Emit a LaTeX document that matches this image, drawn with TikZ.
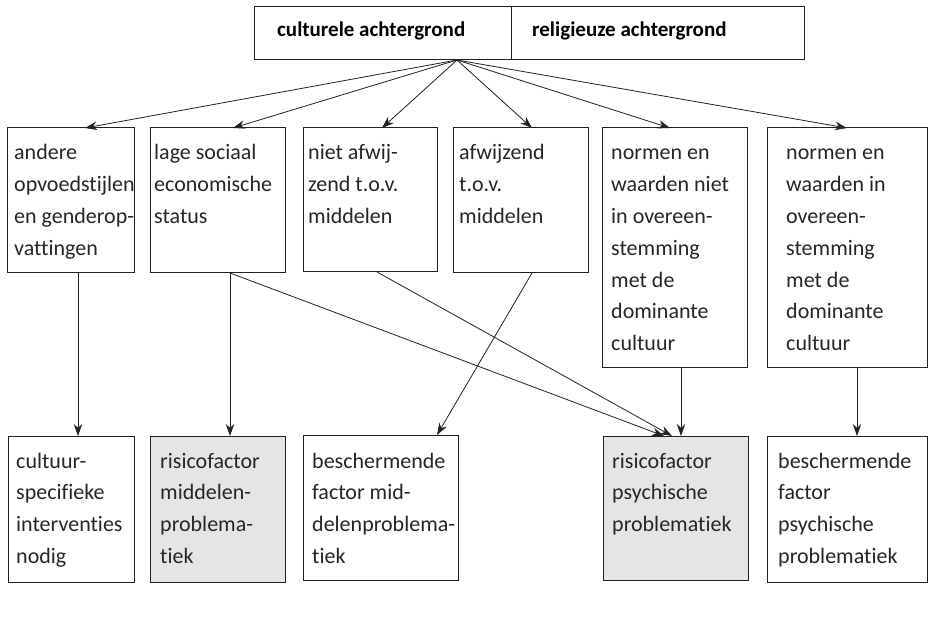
\documentclass[tikz,border=0pt]{standalone}
\usepackage{fontspec}
\setmainfont{Carlito}[Ligatures={NoCommon,NoContextual}]
\usetikzlibrary{arrows.meta}
\definecolor{boxgray}{HTML}{E4E5E4}
\definecolor{ln}{HTML}{222222}
\newcommand{\mlines}[1]{\begin{tabular}[t]{@{}l@{}}#1\end{tabular}}
\begin{document}
\begin{tikzpicture}[x=1pt,y=-1pt,
  box/.style={draw=ln, line width=1pt, rectangle, inner sep=0pt, outer sep=0pt, anchor=north west},
  grayfill/.style={fill=boxgray},
  txt/.style={anchor=base west, inner sep=0pt, text=black!85, font=\fontsize{22}{31.8}\selectfont},
  head/.style={anchor=base west, inner sep=0pt, font=\bfseries\fontsize{21}{25}\selectfont},
  arr/.style={draw=ln, line width=0.8pt, -{Stealth[length=12pt,width=8.5pt]}}]
\useasboundingbox[fill=white] (0,0) rectangle (929,617);
% top
\node[box, minimum width=257pt, minimum height=53pt] (cult) at (254,7) {};
\node[box, minimum width=293pt, minimum height=53pt] (rel) at (511,7) {};
\node[head] (tc) at (277,37) {culturele achtergrond};
\node[head] (tr) at (532,37) {religieuze achtergrond};
\coordinate (hub) at ([xshift=-54pt]cult.south east);
% middle row
\node[box, minimum width=127pt, minimum height=145pt] (m1) at (7,128) {};
\node[box, minimum width=135pt, minimum height=145pt] (m2) at (150,128) {};
\node[box, minimum width=134pt, minimum height=144pt] (m3) at (303,128) {};
\node[box, minimum width=135pt, minimum height=145pt] (m4) at (453,128) {};
\node[box, minimum width=145pt, minimum height=240pt] (m5) at (602,128) {};
\node[box, minimum width=160pt, minimum height=240pt] (m6) at (767,128) {};
\node[txt] (t1) at (14,160) {\mlines{andere\\opvoedstijlen\\en genderop-\\vattingen}};
\node[txt] (t2) at (154,160) {\mlines{lage sociaal\\economische\\status}};
\node[txt] (t3) at (308,160) {\mlines{niet afwij-\\zend t.o.v.\\middelen}};
\node[txt] (t4) at (459,160) {\mlines{afwijzend\\t.o.v.\\middelen}};
\node[txt] (t5) at (611,160) {\mlines{normen en\\waarden niet\\in overeen-\\stemming\\met de\\dominante\\cultuur}};
\node[txt] (t6) at (786,160) {\mlines{normen en\\waarden in\\overeen-\\stemming\\met de\\dominante\\cultuur}};
% bottom row
\node[box, minimum width=126pt, minimum height=146pt] (b1) at (8,436) {};
\node[box, grayfill, minimum width=135pt, minimum height=146pt] (b2) at (150,436) {};
\node[box, minimum width=155pt, minimum height=145pt] (b3) at (303,435) {};
\node[box, grayfill, minimum width=145pt, minimum height=144pt] (b4) at (603,436) {};
\node[box, minimum width=160pt, minimum height=146pt] (b5) at (767,436) {};
\node[txt] (u1) at (16,468) {\mlines{cultuur-\\specifieke\\interventies\\nodig}};
\node[txt] (u2) at (160,468) {\mlines{risicofactor\\middelen-\\problema-\\tiek}};
\node[txt] (u3) at (312,468) {\mlines{beschermende\\factor mid-\\delenproblema-\\tiek}};
\node[txt] (u4) at (612,468) {\mlines{risicofactor\\psychische\\problematiek}};
\node[txt] (u5) at (778,468) {\mlines{beschermende\\factor\\psychische\\problematiek}};
% arrows from the top
\draw[arr] (hub) -- ([xshift=14.5pt]m1.north);
\draw[arr] (hub) -- ([xshift=15.5pt]m2.north);
\draw[arr] (hub) -- ([xshift=12pt]m3.north);
\draw[arr] (hub) -- ([xshift=11.5pt]m4.north);
\draw[arr] (hub) -- ([xshift=-4.5pt]m5.north);
\draw[arr] (hub) -- (m6.north);
% arrows down
\draw[arr] ([xshift=7.5pt]m1.south) -- ([xshift=7.5pt]m1.south |- b1.north);
\draw[arr] ([xshift=12.5pt]m2.south) -- ([xshift=12.5pt]m2.south |- b2.north);
\draw[arr] ([xshift=12.5pt]m2.south) -- ([xshift=-11.5pt]b4.north);
\draw[arr] ([xshift=7pt]m3.south) -- ([xshift=-3.5pt]b4.north);
\draw[arr] ([xshift=11.5pt]m4.south) -- ([xshift=56.5pt]b3.north);
\draw[arr] ([xshift=6.5pt]m5.south) -- ([xshift=6.5pt]m5.south |- b4.north);
\draw[arr] ([xshift=10pt]m6.south) -- ([xshift=10pt]m6.south |- b5.north);
\end{tikzpicture}
\end{document}
